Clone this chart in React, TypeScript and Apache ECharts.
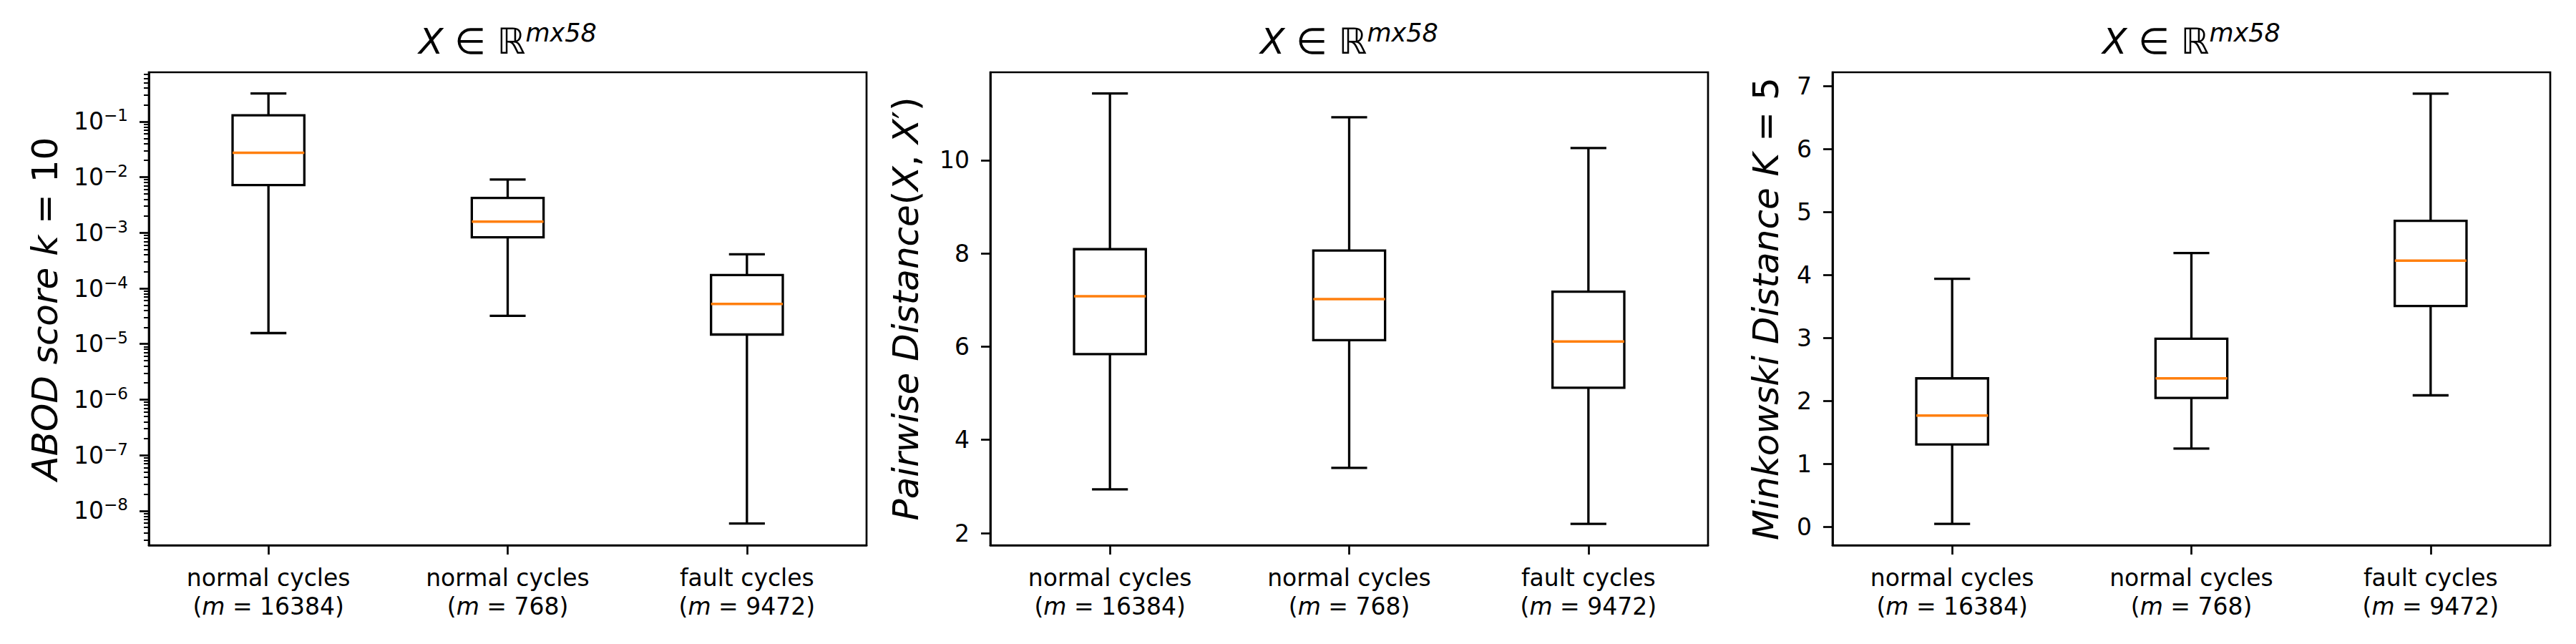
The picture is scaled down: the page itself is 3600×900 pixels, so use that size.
import React, { useEffect, useRef } from 'react';
import * as echarts from 'echarts';

// ---------------- data ----------------
const cycleKinds = ['normal cycles', 'normal cycles', 'fault cycles'];
const sampleSizes = [16384, 768, 9472];

// each row: [lower whisker, Q1, median, Q3, upper whisker]
const abodScores = [
  [1.57e-5, 0.0072, 0.0275, 0.13, 0.32],
  [3.2e-5, 0.00083, 0.00158, 0.00424, 0.0091],
  [5.9e-9, 1.48e-5, 5.25e-5, 1.74e-4, 4.1e-4],
];
const pairwiseDistances = [
  [2.94, 5.84, 7.08, 8.09, 11.43],
  [3.4, 6.14, 7.02, 8.06, 10.92],
  [2.2, 5.12, 6.11, 7.18, 10.26],
];
const minkowskiDistances = [
  [0.05, 1.31, 1.77, 2.36, 3.94],
  [1.245, 2.05, 2.36, 2.99, 4.35],
  [2.09, 3.51, 4.23, 4.86, 6.88],
];

const abodDecadeTicks = [-8, -7, -6, -5, -4, -3, -2, -1]; // exponents of 10
const pairwiseTicks = [2, 4, 6, 8, 10];
const minkowskiTicks = [0, 1, 2, 3, 4, 5, 6, 7];

const abodRange = [2.4e-9, 0.77];
const pairwiseRange = [1.74, 11.885];
const minkowskiRange = [-0.29, 7.22];

// ---------------- style ----------------
const FONT = 'DejaVu Sans';
const BLACK = '#000000';
const ORANGE = '#ff7f0e';
const GRID_TOP = 101;
const GRID_H = 661;
const GRID_W = 1003;
const GRID_LEFTS = [208, 1384, 2561];

const abodMinorTicks: number[] = [];
for (let e = -9; e <= -1; e++) {
  for (let k = 2; k <= 9; k++) {
    const v = Math.log10(k * Math.pow(10, e));
    if (v > Math.log10(abodRange[0]) && v < Math.log10(abodRange[1])) abodMinorTicks.push(v);
  }
}

function boxRenderer(params: any, api: any) {
  const cat = api.value(0);
  const lo = api.coord([cat, api.value(1)]);
  const q1 = api.coord([cat, api.value(2)]);
  const med = api.coord([cat, api.value(3)]);
  const q3 = api.coord([cat, api.value(4)]);
  const hi = api.coord([cat, api.value(5)]);
  const band = api.size([1, 0])[0];
  const cx = lo[0];
  const halfBox = band * 0.15;
  const halfCap = band * 0.075;
  const stroke = { stroke: BLACK, lineWidth: 3.3 };
  return {
    type: 'group',
    children: [
      { type: 'line', shape: { x1: cx, y1: q1[1], x2: cx, y2: lo[1] }, style: stroke },
      { type: 'line', shape: { x1: cx, y1: q3[1], x2: cx, y2: hi[1] }, style: stroke },
      { type: 'line', shape: { x1: cx - halfCap, y1: lo[1], x2: cx + halfCap, y2: lo[1] }, style: stroke },
      { type: 'line', shape: { x1: cx - halfCap, y1: hi[1], x2: cx + halfCap, y2: hi[1] }, style: stroke },
      {
        type: 'rect',
        shape: { x: cx - halfBox, y: q3[1], width: 2 * halfBox, height: q1[1] - q3[1] },
        style: { stroke: BLACK, lineWidth: 3.3, fill: 'none' },
      },
      { type: 'line', shape: { x1: cx - halfBox, y1: med[1], x2: cx + halfBox, y2: med[1] }, style: { stroke: ORANGE, lineWidth: 3.5 } },
    ],
  };
}

const italic = { fontFamily: FONT, fontStyle: 'italic', fontWeight: 'normal', fontSize: 50, lineHeight: 60, color: BLACK };
const upright = { fontFamily: FONT, fontStyle: 'normal', fontWeight: 'normal', fontSize: 50, lineHeight: 60, color: BLACK };
const nameRich = { i: italic, n: upright };

const titleRich = {
  x: italic,
  r: upright,
  s: { fontFamily: FONT, fontStyle: 'italic', fontWeight: 'normal', fontSize: 35, lineHeight: 35, verticalAlign: 'top', color: BLACK },
};

function xAxisFor(gridIndex: number) {
  return {
    type: 'category',
    gridIndex,
    data: cycleKinds.map((k, i) => `${k} (m = ${sampleSizes[i]})`),
    boundaryGap: true,
    axisLine: { show: true, onZero: false, lineStyle: { color: BLACK, width: 2.7 } },
    axisTick: { show: true, alignWithLabel: true, length: 13, lineStyle: { color: BLACK, width: 2.7 } },
    axisLabel: {
      interval: 0,
      margin: 25,
      fontFamily: FONT,
      fontSize: 33,
      lineHeight: 40,
      color: BLACK,
      align: 'center',
      formatter: (_v: string, idx: number) => `${cycleKinds[idx]}\n({m|m} = ${sampleSizes[idx]})`,
      rich: { m: { fontFamily: FONT, fontStyle: 'italic', fontSize: 33, lineHeight: 40, color: BLACK } },
    },
    splitLine: { show: false },
  };
}

function mainYAxis(gridIndex: number, range: number[], ticks: number[], name: string, nameGap: number, formatter?: any, rich?: any) {
  return {
    type: 'value',
    gridIndex,
    min: range[0],
    max: range[1],
    position: 'left',
    name,
    nameLocation: 'middle',
    nameRotate: 90,
    nameGap,
    nameTextStyle: { rich: nameRich, fontFamily: FONT, fontSize: 50, fontWeight: 'normal', color: BLACK },
    axisLine: { show: true, onZero: false, lineStyle: { color: BLACK, width: 2.7 } },
    axisTick: { show: true, length: 13, customValues: ticks, lineStyle: { color: BLACK, width: 2.7 } },
    axisLabel: {
      show: true,
      margin: 29,
      customValues: ticks,
      fontFamily: FONT,
      fontSize: 33,
      color: BLACK,
      formatter: formatter || ((v: number) => String(v)),
      rich,
    },
    splitLine: { show: false },
  };
}

function boxData(rows: number[][], transform: (v: number) => number) {
  return rows.map((r, i) => [i, ...r.map(transform)]);
}

const App: React.FC = () => {
  const ref = useRef<HTMLDivElement>(null);
  useEffect(() => {
    if (!ref.current) return;
    const chart = echarts.init(ref.current, undefined, { renderer: 'svg' });
    const centers = GRID_LEFTS.map((l) => l + GRID_W / 2);
    const option: any = {
      animation: false,
      backgroundColor: '#ffffff',
      title: centers.map((cx) => ({
        text: '{x|X}{r| ∈ ℝ}{s|mx58}',
        left: cx,
        top: 28,
        textAlign: 'center',
        padding: 0,
        textStyle: { rich: titleRich, fontFamily: FONT, fontSize: 50, fontWeight: 'normal', color: BLACK },
      })),
      grid: GRID_LEFTS.map((l) => ({
        left: l,
        top: GRID_TOP,
        width: GRID_W,
        height: GRID_H,
        show: true,
        borderColor: BLACK,
        borderWidth: 2.7,
        backgroundColor: 'transparent',
        containLabel: false,
        outerBoundsMode: 'none',
      })),
      xAxis: [xAxisFor(0), xAxisFor(1), xAxisFor(2)],
      yAxis: [
        mainYAxis(
          0,
          abodRange.map(Math.log10),
          abodDecadeTicks,
          '{i|ABOD score k}{n| = 10}',
          115,
          (v: number) => `{b|10}{s|−${Math.round(-v)}}`,
          {
            b: { fontFamily: FONT, fontSize: 33, lineHeight: 40, color: BLACK },
            s: { fontFamily: FONT, fontSize: 23, lineHeight: 23, verticalAlign: 'top', color: BLACK },
          }
        ),
        {
          type: 'value',
          gridIndex: 0,
          min: Math.log10(abodRange[0]),
          max: Math.log10(abodRange[1]),
          position: 'left',
          axisLine: { show: false, onZero: false },
          axisLabel: { show: false },
          splitLine: { show: false },
          axisTick: { show: true, length: 7, customValues: abodMinorTicks, lineStyle: { color: BLACK, width: 2 } },
        },
        mainYAxis(1, pairwiseRange, pairwiseTicks, '{i|Pairwise Distance}{n|(}{i|X}{n|, }{i|X}{n|′)}', 88),
        mainYAxis(2, minkowskiRange, minkowskiTicks, '{i|Minkowski Distance K}{n| = 5}', 63),
      ],
      series: [
        {
          type: 'custom',
          xAxisIndex: 0,
          yAxisIndex: 0,
          renderItem: boxRenderer,
          encode: { x: 0, y: [1, 2, 3, 4, 5] },
          data: boxData(abodScores, Math.log10),
        },
        {
          type: 'custom',
          xAxisIndex: 1,
          yAxisIndex: 2,
          renderItem: boxRenderer,
          encode: { x: 0, y: [1, 2, 3, 4, 5] },
          data: boxData(pairwiseDistances, (v) => v),
        },
        {
          type: 'custom',
          xAxisIndex: 2,
          yAxisIndex: 3,
          renderItem: boxRenderer,
          encode: { x: 0, y: [1, 2, 3, 4, 5] },
          data: boxData(minkowskiDistances, (v) => v),
        },
      ],
    };
    chart.setOption(option);
    return () => chart.dispose();
  }, []);
  return <div ref={ref} style={{ position: 'absolute', left: 0, top: 0, width: 3600, height: 900, background: '#fff' }} />;
};

export default App;
